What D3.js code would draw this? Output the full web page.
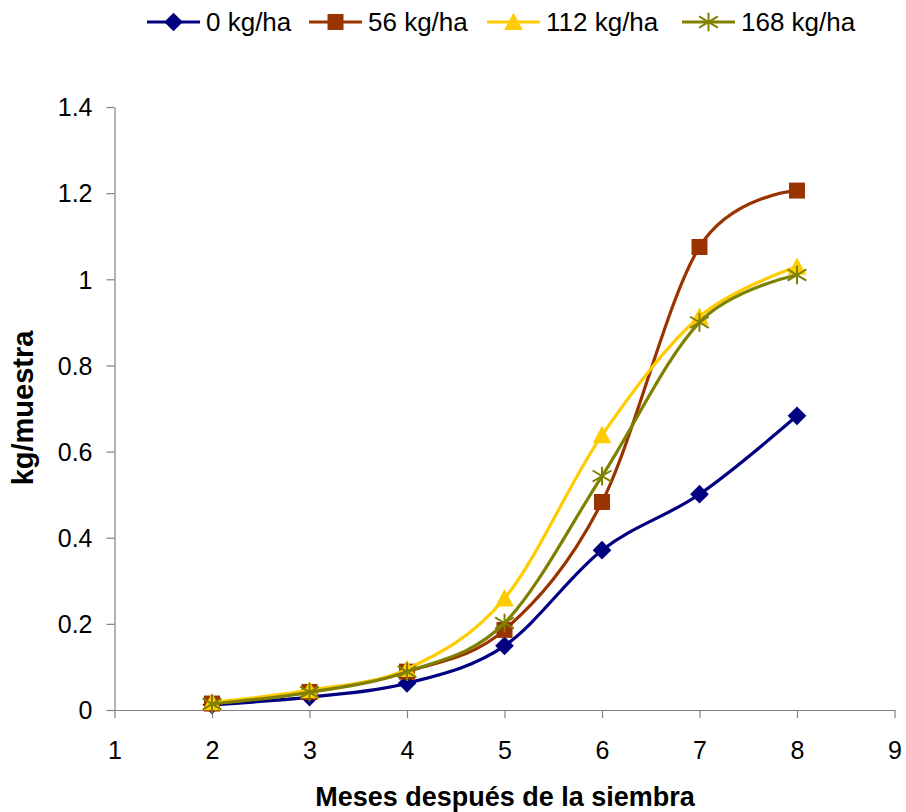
<!DOCTYPE html>
<html>
<head>
<meta charset="utf-8">
<script src="https://cdn.jsdelivr.net/npm/d3@7"></script>
<style>
  html, body { margin: 0; padding: 0; background: #fff; }
  svg { display: block; font-family: "Liberation Sans", Arial, sans-serif; }
</style>
</head>
<body>
<svg id="chart" width="906" height="812"></svg>
<script>
// Months after sowing and biomass per sample for each nitrogen dose
const months = [2, 3, 4, 5, 6, 7, 8];
const dose0   = [0.012, 0.030, 0.062, 0.149, 0.371, 0.501, 0.683];
const dose56  = [0.015, 0.042, 0.089, 0.186, 0.483, 1.075, 1.206];
const dose112 = [0.018, 0.046, 0.095, 0.259, 0.638, 0.913, 1.029];
const dose168 = [0.014, 0.041, 0.089, 0.202, 0.543, 0.900, 1.010];
const seriesNames = ["0 kg/ha", "56 kg/ha", "112 kg/ha", "168 kg/ha"];
const xTicks = [1, 2, 3, 4, 5, 6, 7, 8, 9];
const yTicks = [0, 0.2, 0.4, 0.6, 0.8, 1, 1.2, 1.4];

const seriesValues = [dose0, dose56, dose112, dose168];
const colors = ["#000080", "#993300", "#FFCC00", "#808000"];
const shapes = ["diamond", "square", "triangle", "star"];

const svg = d3.select("#chart");
const x = d3.scaleLinear().domain([1, 9]).range([114.5, 894.5]);
const y = d3.scaleLinear().domain([0, 1.4]).range([710, 107]);

// Axes
const xAxis = svg.append("g").attr("transform", `translate(0,${y(0)})`)
  .call(d3.axisBottom(x).tickValues(xTicks).tickFormat(d3.format("d")).tickSize(8).tickSizeOuter(0));
const yAxis = svg.append("g").attr("transform", `translate(${x(1)},0)`)
  .call(d3.axisLeft(y).tickValues(yTicks).tickFormat(d => String(+d.toFixed(1))).tickSize(8).tickSizeOuter(0));
[xAxis, yAxis].forEach(g => {
  g.select(".domain").attr("stroke", "#808080").attr("stroke-width", 1.2);
  g.selectAll(".tick line").attr("stroke", "#808080").attr("stroke-width", 1.2);
  g.selectAll(".tick text").attr("fill", "#000").style("font-size", "25px")
    .style("font-family", "'Liberation Sans', Arial, sans-serif");
});
xAxis.selectAll(".tick text").attr("dy", "0").attr("y", 49);
yAxis.selectAll(".tick text").attr("x", -22).attr("dy", "0.35em");

// Axis titles
svg.append("text").attr("x", 505).attr("y", 806).attr("text-anchor", "middle")
  .style("font-size", "27px").style("font-weight", "bold").text("Meses después de la siembra");
svg.append("text").attr("transform", "translate(33,408) rotate(-90)").attr("text-anchor", "middle")
  .style("font-size", "29px").style("font-weight", "bold").text("kg/muestra");

// Marker drawing
function marker(g, shape, color, cx, cy, s) {
  if (shape === "diamond") {
    const r = s * 0.55;
    g.append("path").attr("d", `M${cx},${cy - r}L${cx + r},${cy}L${cx},${cy + r}L${cx - r},${cy}Z`)
      .attr("fill", color);
  } else if (shape === "square") {
    const h = s * 0.47;
    g.append("rect").attr("x", cx - h).attr("y", cy - h).attr("width", 2 * h).attr("height", 2 * h)
      .attr("fill", color);
  } else if (shape === "triangle") {
    const h = s * 0.55;
    g.append("path").attr("d", `M${cx},${cy - h}L${cx + h},${cy + h * 0.85}L${cx - h},${cy + h * 0.85}Z`)
      .attr("fill", color);
  } else {
    const r = s * 0.55;
    const p = [
      [cx - r, cy - r * 0.6, cx + r, cy + r * 0.6],
      [cx - r, cy + r * 0.6, cx + r, cy - r * 0.6],
      [cx, cy - r, cx, cy + r]
    ];
    p.forEach(d => g.append("line").attr("x1", d[0]).attr("y1", d[1]).attr("x2", d[2]).attr("y2", d[3])
      .attr("stroke", color).attr("stroke-width", 2));
  }
}

// Smoothed series lines with markers
const line = d3.line().x(d => x(d[0])).y(d => y(d[1])).curve(d3.curveCatmullRom.alpha(0));
seriesValues.forEach((vals, i) => {
  const pts = months.map((m, j) => [m, vals[j]]);
  const g = svg.append("g");
  g.append("path").datum(pts).attr("d", line).attr("fill", "none")
    .attr("stroke", colors[i]).attr("stroke-width", 3.2).attr("stroke-linejoin", "round");
  pts.forEach(p => marker(g, shapes[i], colors[i], x(p[0]), y(p[1]), 17));
});

// Legend
const legendX = [147, 309, 487, 682];
seriesNames.forEach((name, i) => {
  const g = svg.append("g");
  const lx = legendX[i], ly = 22;
  g.append("line").attr("x1", lx).attr("x2", lx + 53).attr("y1", ly).attr("y2", ly)
    .attr("stroke", colors[i]).attr("stroke-width", 3.2);
  marker(g, shapes[i], colors[i], lx + 26.5, ly, 17);
  g.append("text").attr("x", lx + 59).attr("y", ly).attr("dy", "0.36em")
    .style("font-size", "26px").text(name);
});
</script>
</body>
</html>
